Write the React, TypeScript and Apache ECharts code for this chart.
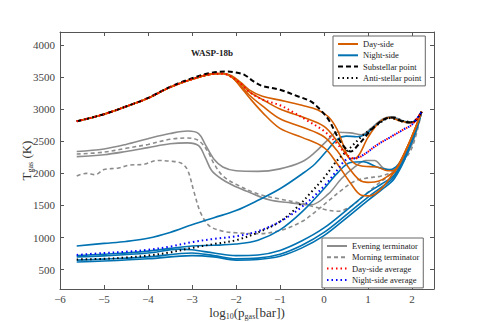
import React, { useEffect, useRef } from "react";
import * as echarts from "echarts";

// ---------- data (log10 p [bar], T [K]) ----------
const xTicks = [-6, -5, -4, -3, -2, -1, 0, 1, 2];
const yTicks = [500, 1000, 1500, 2000, 2500, 3000, 3500, 4000];

const trunkX = [-5.62, -5.0, -4.5, -4.0, -3.5, -3.0, -2.6, -2.3];
const trunkT = [2810, 2920, 3040, 3170, 3340, 3465, 3540, 3555];

const day1X = [-2.1, -1.9, -1.7, -1.4, -1.0, -0.5, -0.15, 0.1, 0.3, 0.45, 0.6, 0.75, 1.0, 1.25, 1.5, 1.75, 2.0, 2.22];
const day1T = [3520, 3420, 3300, 3200, 3140, 3060, 2990, 2880, 2680, 2420, 2230, 2250, 2560, 2790, 2870, 2810, 2790, 2960];
const day2X = [-2.1, -1.9, -1.7, -1.4, -1.0, -0.5, 0.0, 0.3, 0.5, 0.7, 0.9, 1.2, 1.45, 1.6, 1.9, 2.22];
const day2T = [3510, 3400, 3270, 3150, 3000, 2880, 2730, 2500, 2300, 2150, 2110, 2100, 2040, 2050, 2420, 2960];
const day3X = [-2.1, -1.9, -1.7, -1.4, -1.0, -0.5, 0.0, 0.3, 0.55, 0.8, 1.0, 1.25, 1.5, 1.62, 1.9, 2.22];
const day3T = [3500, 3370, 3220, 3050, 2850, 2720, 2570, 2350, 2100, 1900, 1860, 1880, 1980, 2040, 2420, 2960];
const day4X = [-2.1, -1.9, -1.7, -1.4, -1.0, -0.5, 0.0, 0.3, 0.6, 0.85, 1.05, 1.3, 1.55, 1.62, 1.9, 2.22];
const day4T = [3500, 3350, 3180, 2950, 2700, 2560, 2400, 2150, 1850, 1660, 1650, 1760, 1980, 2040, 2420, 2960];

const subX = [-5.62, -5, -4.5, -4, -3.5, -3, -2.6, -2.25, -2.0, -1.8, -1.6, -1.4, -1.0, -0.6, -0.3, -0.1, 0.1, 0.3, 0.45, 0.6, 0.8, 1.0, 1.2, 1.4, 1.6, 1.8, 2.0, 2.22];
const subT = [2810, 2920, 3040, 3175, 3345, 3480, 3560, 3585, 3570, 3530, 3430, 3360, 3300, 3200, 3120, 3000, 2840, 2580, 2420, 2340, 2460, 2620, 2760, 2850, 2870, 2800, 2790, 2960];

const antiX = [-5.62, -5, -4.5, -4, -3.5, -3, -2.5, -2, -1.5, -1, -0.6, -0.3, 0, 0.3, 0.6, 0.9, 1.2, 1.5, 1.75, 2.0, 2.22];
const antiT = [660, 670, 690, 720, 770, 840, 900, 960, 1080, 1250, 1480, 1700, 1930, 2200, 2400, 2600, 2750, 2860, 2820, 2800, 2960];

const dayAvgX = [-5.62, -5, -4.5, -4, -3.5, -3, -2.6, -2.3, -2.1, -1.9, -1.7, -1.4, -1.0, -0.7, -0.4, 0.0, 0.3, 0.5, 0.7, 0.9, 1.2, 1.5, 1.8, 2.0, 2.22];
const dayAvgT = [2810, 2920, 3040, 3170, 3340, 3465, 3540, 3550, 3500, 3400, 3270, 3150, 3060, 2950, 2830, 2660, 2460, 2300, 2230, 2290, 2440, 2560, 2680, 2760, 2960];

const nightAvgX = [-5.62, -5, -4.5, -4, -3.5, -3, -2.5, -2, -1.5, -1, -0.5, 0, 0.3, 0.5, 0.7, 0.9, 1.2, 1.5, 1.8, 2.0, 2.22];
const nightAvgT = [730, 760, 780, 810, 860, 930, 980, 1020, 1100, 1250, 1480, 1800, 2050, 2210, 2235, 2290, 2440, 2560, 2680, 2760, 2960];

const eve1X = [-5.62, -5, -4.5, -4, -3.5, -3.1, -2.85, -2.7, -2.5, -2.3, -2, -1.5, -1, -0.5, -0.2, 0.1, 0.3, 0.6, 0.85, 1.1, 1.3, 1.5, 1.7, 1.9, 2.05, 2.22];
const eve1T = [2340, 2380, 2450, 2540, 2620, 2660, 2620, 2450, 2220, 2100, 2040, 2030, 2070, 2180, 2330, 2530, 2640, 2630, 2600, 2720, 2830, 2880, 2850, 2790, 2800, 2960];
const eve2X = [-5.62, -5, -4.5, -4, -3.5, -3.1, -2.85, -2.7, -2.55, -2.3, -2, -1.75, -1.25, -0.75, -0.3, 0.1, 0.4, 0.7, 0.95, 1.15, 1.35, 1.55, 1.75, 2.0, 2.22];
const eve2T = [2260, 2290, 2340, 2400, 2460, 2475, 2430, 2250, 2040, 1900, 1790, 1720, 1590, 1540, 1510, 1680, 1920, 2100, 2200, 2200, 2080, 2050, 2150, 2450, 2960];

const morn1X = [-5.62, -5, -4.5, -4, -3.5, -3.1, -2.85, -2.65, -2.5, -2.3, -2, -1.5, -1, -0.5, 0, 0.3, 0.6, 0.9, 1.2, 1.5, 1.75, 2.0, 2.22];
const morn1T = [2300, 2330, 2390, 2450, 2530, 2550, 2510, 2350, 2150, 1960, 1830, 1680, 1600, 1530, 1440, 1410, 1480, 1650, 1820, 1980, 2150, 2400, 2960];
const morn2X = [-5.62, -5.4, -5.2, -5, -4.7, -4.4, -4.1, -3.8, -3.5, -3.25, -3.1, -2.95, -2.8, -2.6, -2.3, -2, -1.5, -1, -0.5, -0.2, 0.1, 0.4, 0.7, 1.0, 1.3, 1.6, 1.9, 2.22];
const morn2T = [1960, 2000, 1980, 2060, 2080, 2130, 2140, 2200, 2190, 2160, 2050, 1700, 1380, 1180, 1100, 1075, 1060, 1110, 1250, 1400, 1570, 1740, 1880, 1930, 1960, 2050, 2350, 2960];

const night1X = [-5.62, -5, -4.5, -4, -3.5, -3, -2.5, -2, -1.5, -1, -0.5, -0.2, 0.1, 0.3, 0.5, 0.75, 0.95, 1.2, 1.5, 1.75, 2.0, 2.22];
const night1T = [870, 910, 940, 990, 1080, 1200, 1310, 1420, 1580, 1760, 1990, 2150, 2380, 2530, 2580, 2570, 2610, 2760, 2870, 2820, 2800, 2960];
const night2X = [-5.62, -5, -4, -3, -2.5, -2, -1.5, -1, -0.5, 0, 0.3, 0.6, 0.9, 1.2, 1.5, 1.7, 2.0, 2.22];
const night2T = [720, 740, 790, 870, 880, 900, 960, 1120, 1400, 1760, 2000, 2170, 2180, 2100, 2060, 2150, 2500, 2960];
const night3X = [-5.62, -5, -4, -3.3, -3, -2.5, -2, -1.5, -1, -0.5, 0, 0.5, 1, 1.3, 1.6, 1.9, 2.22];
const night3T = [700, 715, 760, 820, 810, 760, 720, 730, 800, 950, 1150, 1420, 1700, 1830, 1980, 2350, 2960];
const night4X = [-5.62, -5, -4, -3, -2.5, -2, -1.5, -1, -0.5, 0, 0.5, 1, 1.3, 1.6, 1.9, 2.22];
const night4T = [650, 665, 700, 760, 720, 670, 680, 740, 880, 1080, 1350, 1630, 1780, 1950, 2330, 2960];
const night5X = [-5.62, -5, -4, -3, -2.5, -2, -1.5, -1, -0.5, 0, 0.5, 1, 1.3, 1.6, 1.9, 2.22];
const night5T = [620, 635, 670, 720, 700, 650, 660, 710, 840, 1030, 1300, 1580, 1740, 1920, 2320, 2960];

// ---------- styling ----------
const ORANGE = "#d55e00";
const BLUE = "#0072b2";
const GREY = "#8c8c8c";
const FONT = "Liberation Serif";

const zip = (xs: number[], ts: number[]) => xs.map((x, i) => [x, ts[i]]);

function line(name: string, data: number[][], color: string, width: number, type: any, z: number) {
  return {
    type: "line",
    name,
    data,
    showSymbol: false,
    symbol: "none",
    smooth: 0.35,
    z,
    lineStyle: { color, width, type },
    itemStyle: { color },
    emphasis: { disabled: true },
  };
}

const fmtX = (v: number) => String(v).replace("-", "\u2212");
const fmtY = (v: number) => String(v);

const nameRich = {
  n: { fontFamily: FONT, fontSize: 13, color: "#333", lineHeight: 16, verticalAlign: "middle" },
  s: { fontFamily: FONT, fontSize: 8, color: "#333", lineHeight: 8, verticalAlign: "bottom" },
};

export default function App() {
  const ref = useRef<HTMLDivElement>(null);
  useEffect(() => {
    if (!ref.current) return;
    const chart = echarts.init(ref.current, undefined, { renderer: "svg" });
    const series: any[] = [
      line("Evening terminator", zip(eve1X, eve1T), GREY, 1.6, "solid", 2),
      line("Evening terminator", zip(eve2X, eve2T), GREY, 1.6, "solid", 2),
      line("Morning terminator", zip(morn1X, morn1T), GREY, 1.6, [4, 3], 2),
      line("Morning terminator", zip(morn2X, morn2T), GREY, 1.6, [4, 3], 2),
      line("Night-side", zip(night1X, night1T), BLUE, 1.6, "solid", 3),
      line("Night-side", zip(night2X, night2T), BLUE, 1.6, "solid", 3),
      line("Night-side", zip(night3X, night3T), BLUE, 1.6, "solid", 3),
      line("Night-side", zip(night4X, night4T), BLUE, 1.6, "solid", 3),
      line("Night-side", zip(night5X, night5T), BLUE, 1.6, "solid", 3),
      line("Day-side", zip(trunkX.concat(day1X), trunkT.concat(day1T)), ORANGE, 1.6, "solid", 4),
      line("Day-side", zip(trunkX.concat(day2X), trunkT.concat(day2T)), ORANGE, 1.6, "solid", 4),
      line("Day-side", zip(trunkX.concat(day3X), trunkT.concat(day3T)), ORANGE, 1.6, "solid", 4),
      line("Day-side", zip(trunkX.concat(day4X), trunkT.concat(day4T)), ORANGE, 1.6, "solid", 4),
      line("Substellar point", zip(subX, subT), "#000000", 2, [5, 3], 5),
      line("Anti-stellar point", zip(antiX, antiT), "#000000", 2, [1.5, 3], 5),
      line("Day-side average", zip(dayAvgX, dayAvgT), "#ff0000", 2, [1.5, 3], 6),
      line("Night-side average", zip(nightAvgX, nightAvgT), "#0000ff", 2, [1.5, 3], 6),
    ];
    const legendBase = {
      orient: "vertical",
      itemWidth: 20,
      itemHeight: 8,
      itemGap: 1.3,
      borderColor: "#666",
      borderWidth: 1,
      backgroundColor: "#ffffff",
      borderRadius: 0,
      selectedMode: false,
      itemStyle: { opacity: 0 },
      textStyle: { fontFamily: FONT, fontSize: 8.5, lineHeight: 10, color: "#222" },
    };
    chart.setOption({
      animation: false,
      grid: { left: 60, right: 49, top: 32, bottom: 33, containLabel: false, outerBoundsMode: "none" },
      xAxis: [
        {
          type: "value",
          min: -6,
          max: 2.5,
          position: "bottom",
          name: "{n|log}{s|10}{n|(p}{s|gas}{n|[bar])}",
          nameLocation: "middle",
          nameGap: 15,
          nameMoveOverlap: false,
          nameTextStyle: { fontFamily: FONT, color: "#333", rich: nameRich },
          axisLine: { onZero: false, lineStyle: { color: "#555", width: 1 } },
          axisTick: { inside: true, length: 4, customValues: xTicks, lineStyle: { color: "#555" } },
          axisLabel: { customValues: xTicks, formatter: fmtX, fontFamily: FONT, fontSize: 11, color: "#444", margin: 4 },
          splitLine: { show: false },
        },
        {
          type: "value",
          min: -6,
          max: 2.5,
          position: "top",
          axisLine: { onZero: false, lineStyle: { color: "#555", width: 1 } },
          axisTick: { inside: true, length: 4, customValues: xTicks, lineStyle: { color: "#555" } },
          axisLabel: { show: false },
          splitLine: { show: false },
        },
      ],
      yAxis: [
        {
          type: "value",
          min: 200,
          max: 4200,
          position: "left",
          name: "{n|T}{s|gas}{n| (K)}",
          nameLocation: "middle",
          nameGap: 26,
          nameMoveOverlap: false,
          nameRotate: 90,
          nameTextStyle: { fontFamily: FONT, color: "#333", rich: nameRich },
          axisLine: { show: true, onZero: false, lineStyle: { color: "#555", width: 1 } },
          axisTick: { show: true, inside: true, length: 4, customValues: yTicks, lineStyle: { color: "#555" } },
          axisLabel: { customValues: yTicks, formatter: fmtY, fontFamily: FONT, fontSize: 11, color: "#444", margin: 5 },
          splitLine: { show: false },
        },
        {
          type: "value",
          min: 200,
          max: 4200,
          position: "right",
          axisLine: { show: true, onZero: false, lineStyle: { color: "#555", width: 1 } },
          axisTick: { show: true, inside: true, length: 4, customValues: yTicks, lineStyle: { color: "#555" } },
          axisLabel: { show: false },
          splitLine: { show: false },
        },
      ],
      legend: [
        {
          ...legendBase,
          data: ["Day-side", "Night-side", "Substellar point", "Anti-stellar point"],
          left: 333,
          top: 36,
          padding: [3, 4, 3, 4],
        },
        {
          ...legendBase,
          data: ["Evening terminator", "Morning terminator", "Day-side average", "Night-side average"],
          left: 322,
          top: 238,
          padding: [3, 4, 3, 4],
        },
      ],
      graphic: [
        {
          type: "text",
          x: 212,
          y: 53,
          style: {
            text: "WASP-18b",
            fontFamily: FONT,
            fontSize: 9,
            fontWeight: "bold",
            fill: "#222",
            align: "center",
            verticalAlign: "middle",
          },
        },
      ],
      series,
    });
    return () => chart.dispose();
  }, []);
  return <div ref={ref} style={{ position: "absolute", left: 0, top: 0, width: 483, height: 322 }} />;
}
